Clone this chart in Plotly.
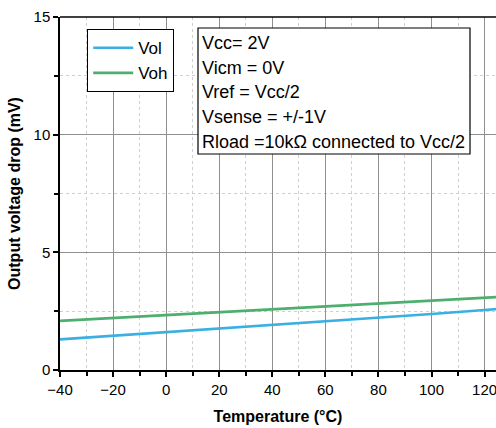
import plotly.graph_objects as go

temperature = [-40, -20, 0, 20, 40, 60, 80, 100, 120, 125]
vol = [1.30, 1.45, 1.60, 1.75, 1.91, 2.06, 2.22, 2.38, 2.55, 2.59]
voh = [2.09, 2.21, 2.34, 2.46, 2.59, 2.71, 2.83, 2.95, 3.07, 3.10]
x_ticks = [-40, -20, 0, 20, 40, 60, 80, 100, 120]
y_ticks = [0, 5, 10, 15]
conditions = ["Vcc= 2V", "Vicm = 0V", "Vref = Vcc/2", "Vsense = +/-1V",
              "Rload =10kΩ connected to Vcc/2"]

W, H = 496, 428
ML, MR, MT, MB = 60, 0, 17, 58
PW, PH = W - ML - MR, H - MT - MB

def px(x):
    return (x - ML) / PW

def py(y):
    return (H - MB - y) / PH

FONT = "Liberation Sans, Arial, sans-serif"

fig = go.Figure()
fig.add_trace(go.Scatter(x=temperature, y=vol, mode="lines", name="Vol",
                         line=dict(color="#3AB0E2", width=2.7)))
fig.add_trace(go.Scatter(x=temperature, y=voh, mode="lines", name="Voh",
                         line=dict(color="#4DAF6E", width=2.7)))

axis_common = dict(
    showline=True, linecolor="black", linewidth=1.5,
    ticks="outside", ticklen=5, tickcolor="black", tickwidth=1.5,
    showgrid=True, gridcolor="#8f8f8f", gridwidth=1,
    zeroline=False,
    tickfont=dict(family=FONT, size=15, color="black"),
)

fig.update_xaxes(
    range=[-40, 124.3], tickvals=x_ticks,
    ticktext=[("\u2212" + str(-v)) if v < 0 else str(v) for v in x_ticks],
    ticklabeloverflow="allow",
    title=dict(text="<b>Temperature (°C)</b>", font=dict(family=FONT, size=16, color="black"),
               standoff=14),
    minor=dict(dtick=10, tick0=-40, showgrid=True, gridcolor="#cfcfcf", griddash="dot",
               ticks="outside", ticklen=4, tickcolor="black", tickwidth=1.5),
    **axis_common,
)
fig.update_yaxes(
    range=[0, 15], tickvals=y_ticks,
    title=dict(text="<b>Output voltage drop (mV)</b>", font=dict(family=FONT, size=16, color="black"),
               standoff=9),
    minor=dict(dtick=2.5, tick0=0, showgrid=True, gridcolor="#cfcfcf", griddash="dot",
               ticks="outside", ticklen=4, tickcolor="black", tickwidth=1.5),
    **axis_common,
)

# top border
fig.add_shape(type="line", xref="paper", yref="paper", x0=0, x1=1, y0=1, y1=1,
              line=dict(color="black", width=1.5))

# conditions box
fig.add_shape(type="rect", xref="paper", yref="paper",
              x0=px(198), x1=px(470), y0=py(154), y1=py(28),
              line=dict(color="black", width=1.2), fillcolor="white", layer="above")
for i, t in enumerate(conditions):
    fig.add_annotation(text=t, xref="paper", yref="paper", x=px(200), y=py(43 + i * 24.7),
                       xanchor="left", yanchor="middle", showarrow=False,
                       font=dict(family=FONT, size=18, color="black"))

fig.update_layout(
    width=W, height=H,
    margin=dict(l=ML, r=MR, t=MT, b=MB),
    plot_bgcolor="white", paper_bgcolor="white",
    showlegend=True,
    legend=dict(x=px(87), y=py(29), xanchor="left", yanchor="top",
                bordercolor="black", borderwidth=1.2, bgcolor="white",
                font=dict(family=FONT, size=17, color="black"),
                tracegroupgap=0, itemwidth=40),
)

fig.write_html("out.html")
